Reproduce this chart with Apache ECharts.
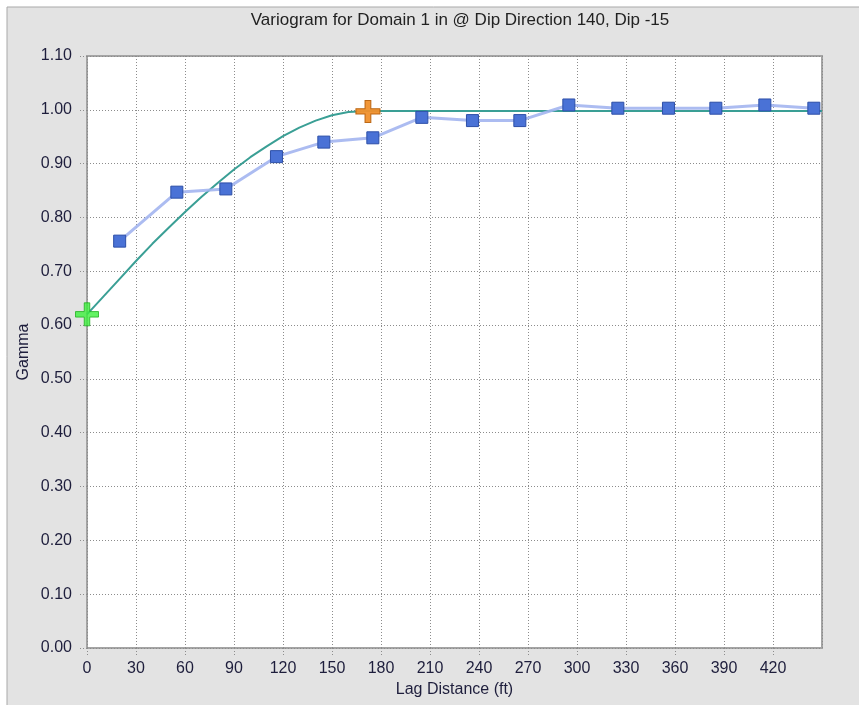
<!DOCTYPE html>
<html>
<head>
<meta charset="utf-8">
<script src="https://cdn.jsdelivr.net/npm/echarts@6/dist/echarts.min.js"></script>
<style>
  html, body { margin: 0; padding: 0; background: #ffffff; }
  #chart { width: 859px; height: 705px; }
</style>
</head>
<body>
<div id="chart"></div>
<script>
// Experimental variogram: lag centres (ft) and gamma values
const lagDistance = [20, 55, 85, 116, 145, 175, 205, 236, 265, 295, 325, 356, 385, 415, 445];
const gammaValues = [0.756, 0.847, 0.853, 0.913, 0.940, 0.948, 0.986, 0.980, 0.980, 1.009, 1.003, 1.003, 1.003, 1.009, 1.003];

// Fitted model curve
const modelLag = [0, 10, 20, 30, 40, 50, 60, 70, 80, 90, 100, 110, 120, 130, 140, 150, 160, 172, 450];
const modelGamma = [0.620, 0.653, 0.686, 0.719, 0.751, 0.781, 0.810, 0.838, 0.864, 0.889, 0.912, 0.932, 0.951, 0.967, 0.980, 0.990, 0.996, 0.998, 0.998];

// Nugget and range/sill handles
const nuggetPoint = [0, 0.620];
const rangePoint = [172, 0.997];

const xTicks = { min: 0, max: 450, step: 30 };
const yTicks = { min: 0, max: 1.1, step: 0.1 };

const plusPath = 'path://M38,0 H62 V38 H100 V62 H62 V100 H38 V62 H0 V38 H38 Z';
const labelFont = 'Liberation Sans, Arial, sans-serif';

const chart = echarts.init(document.getElementById('chart'), null, { renderer: 'canvas' });

chart.setOption({
  animation: false,
  backgroundColor: '#ffffff',
  graphic: [
    {
      type: 'rect',
      shape: { x: 7, y: 7, width: 900, height: 800 },
      style: { fill: '#e3e3e3', stroke: '#a9a9a9', lineWidth: 1 },
      z: -10,
      silent: true
    }
  ],
  title: {
    text: 'Variogram for Domain 1 in @ Dip Direction 140, Dip -15',
    left: 455,
    top: 7,
    textAlign: 'center',
    textStyle: { fontFamily: labelFont, fontSize: 17, fontWeight: 'normal', color: '#222222' }
  },
  grid: {
    left: 87,
    top: 56,
    width: 735,
    bottom: 57,
    show: true,
    backgroundColor: '#ffffff',
    borderColor: '#a4a4a4',
    borderWidth: 2
  },
  xAxis: {
    type: 'value',
    min: xTicks.min,
    max: xTicks.max,
    interval: xTicks.step,
    name: 'Lag Distance (ft)',
    nameLocation: 'middle',
    nameGap: 34,
    nameMoveOverlap: false,
    nameTextStyle: { fontFamily: labelFont, fontSize: 16, color: '#1e1e3c' },
    axisLine: { show: false },
    axisTick: { show: true, length: 8, lineStyle: { color: '#8c8c8c', type: [1, 2] } },
    axisLabel: { showMaxLabel: false, margin: 13, fontFamily: labelFont, fontSize: 16, color: '#1e1e3c' },
    splitLine: { show: true, lineStyle: { color: '#8c8c8c', type: [1, 2], width: 1 } }
  },
  yAxis: {
    type: 'value',
    min: yTicks.min,
    max: yTicks.max,
    interval: yTicks.step,
    name: 'Gamma',
    nameLocation: 'middle',
    nameGap: 55,
    nameMoveOverlap: false,
    nameTextStyle: { fontFamily: labelFont, fontSize: 16, color: '#1e1e3c' },
    axisLine: { show: false },
    axisTick: { show: true, length: 8, lineStyle: { color: '#8c8c8c', type: [1, 2] } },
    axisLabel: {
      margin: 15,
      fontFamily: labelFont,
      fontSize: 16,
      color: '#1e1e3c',
      formatter: v => v.toFixed(2)
    },
    splitLine: { show: true, lineStyle: { color: '#8c8c8c', type: [1, 2], width: 1 } }
  },
  series: [
    {
      name: 'Model',
      type: 'line',
      data: modelLag.map((x, i) => [x, modelGamma[i]]),
      smooth: false,
      showSymbol: false,
      symbol: 'none',
      lineStyle: { color: '#3a9f95', width: 2 },
      z: 3
    },
    {
      name: 'Experimental',
      type: 'line',
      data: lagDistance.map((x, i) => [x, gammaValues[i]]),
      symbol: 'rect',
      symbolSize: 12,
      showAllSymbol: true,
      lineStyle: { color: '#a3b5ef', width: 3, opacity: 0.9 },
      itemStyle: { color: '#4a72d6', borderColor: '#2d4fa8', borderWidth: 1 },
      z: 4
    },
    {
      name: 'Nugget',
      type: 'scatter',
      clip: false,
      data: [nuggetPoint],
      symbol: plusPath,
      symbolSize: [23, 23],
      itemStyle: { color: '#3cf03c', borderColor: '#22b022', borderWidth: 1 },
      z: 6
    },
    {
      name: 'Range',
      type: 'scatter',
      clip: false,
      data: [rangePoint],
      symbol: plusPath,
      symbolSize: [24, 22],
      itemStyle: { color: '#f0902c', borderColor: '#b8620e', borderWidth: 1, opacity: 0.95 },
      z: 6
    }
  ]
});
</script>
</body>
</html>
